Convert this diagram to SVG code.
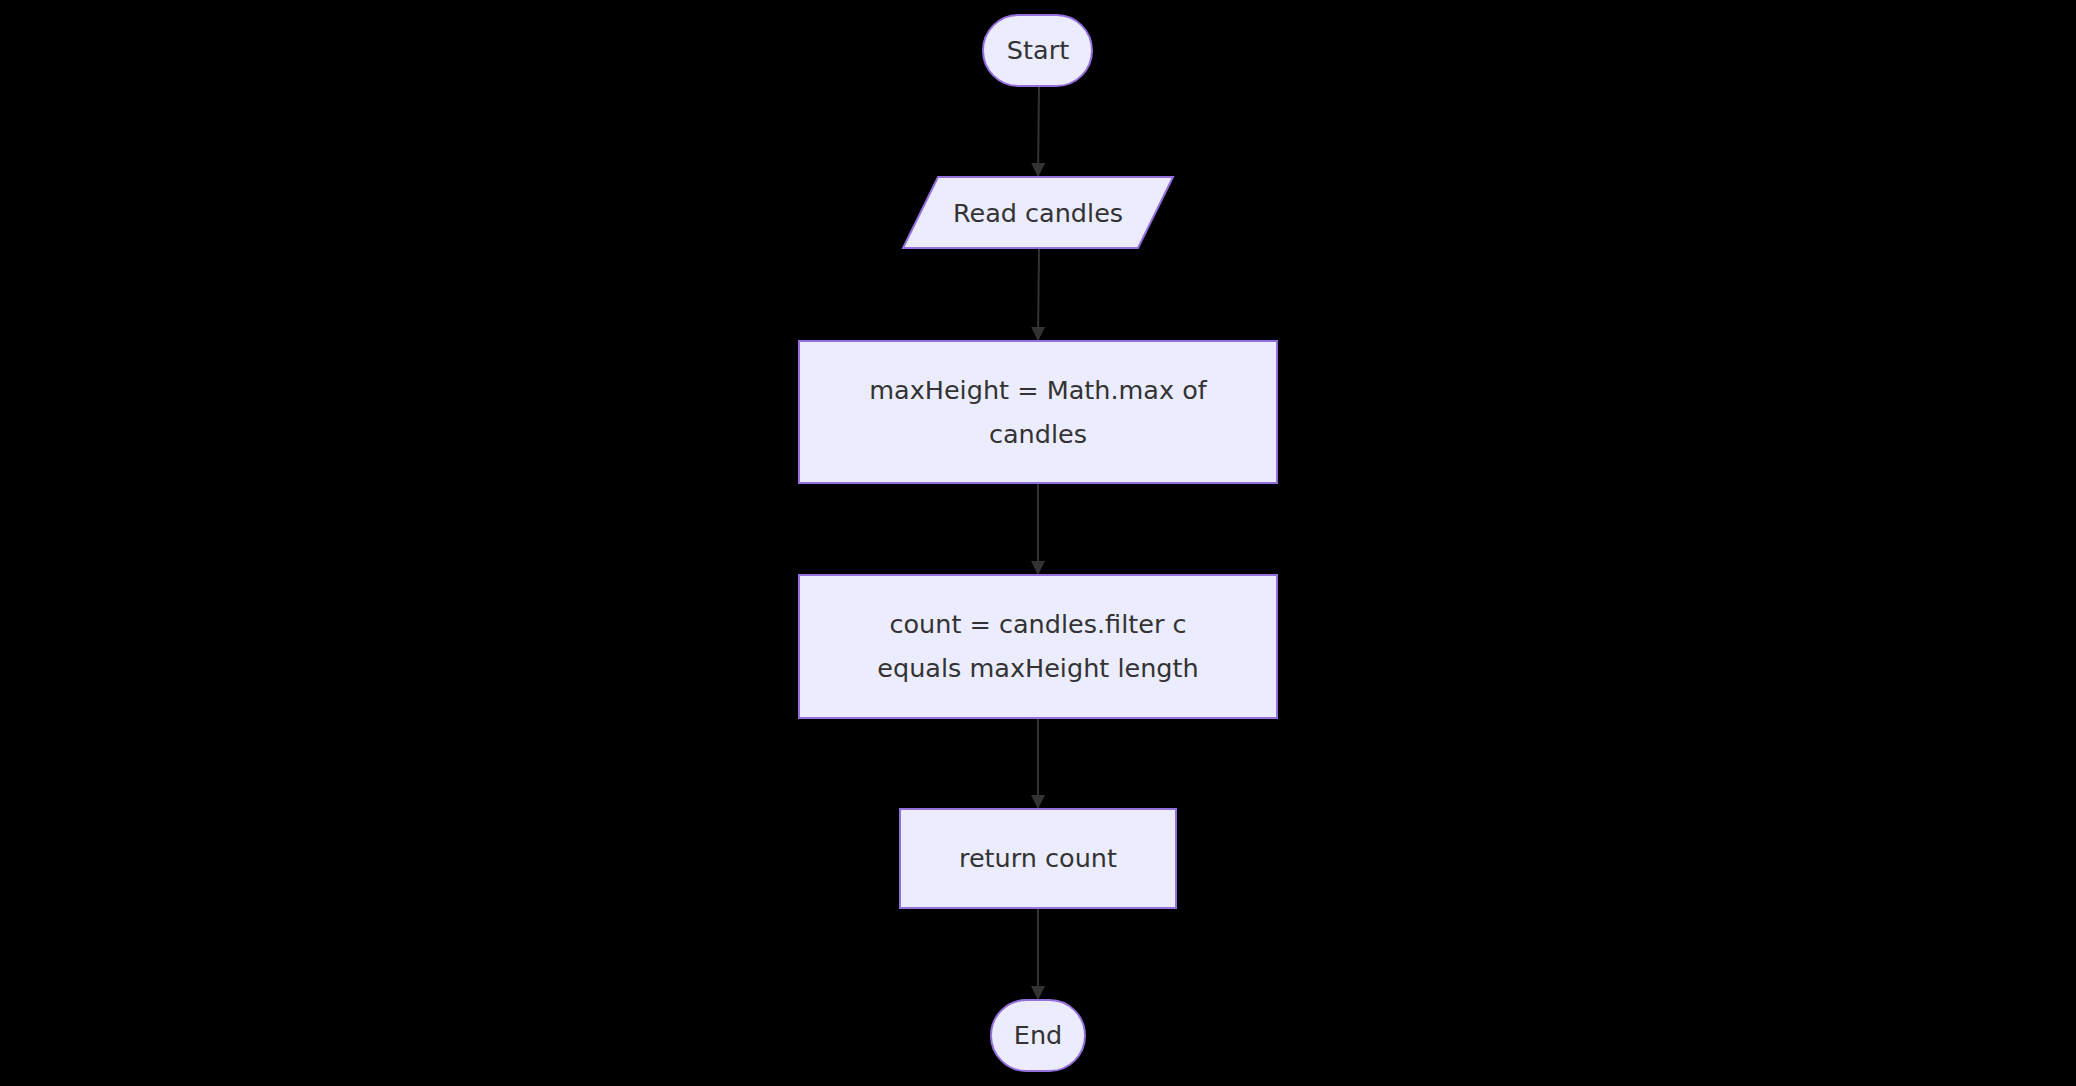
<svg xmlns="http://www.w3.org/2000/svg" width="2076" height="1086" viewBox="0 0 2076 1086">
<defs>
<style>
.node{fill:#ECECFF;stroke:#9370DB;stroke-width:2}
.lbl{font-family:"DejaVu Sans","Liberation Sans",sans-serif;font-size:25.5px;fill:#333333;text-anchor:middle}
.edge{stroke:#333333;stroke-width:2;fill:none}
</style>
<marker id="arrow" viewBox="0 0 10 10" refX="10" refY="5" markerWidth="7" markerHeight="7" markerUnits="strokeWidth" orient="auto">
<path d="M0,0 L10,5 L0,10 z" fill="#333333"/>
</marker>
</defs>
<rect width="2076" height="1086" fill="#000000"/>
<g id="edges">
<path class="edge" d="M1039,86 L1038,177" marker-end="url(#arrow)"/>
<path class="edge" d="M1039,248 L1038,341" marker-end="url(#arrow)"/>
<path class="edge" d="M1038,483 L1038,575" marker-end="url(#arrow)"/>
<path class="edge" d="M1038,718 L1038,809" marker-end="url(#arrow)"/>
<path class="edge" d="M1038,908 L1038,1000" marker-end="url(#arrow)"/>
</g>
<g id="start">
<rect class="node" x="983" y="15" width="109" height="71" rx="35.5" ry="35.5"/>
<text class="lbl" x="1038" y="59">Start</text>
</g>
<g id="read">
<polygon class="node" points="938,177 1173,177 1138,248 903,248"/>
<text class="lbl" x="1038" y="222">Read candles</text>
</g>
<g id="max">
<rect class="node" x="799" y="341" width="478" height="142"/>
<text class="lbl" x="1038" y="399">maxHeight = Math.max of</text>
<text class="lbl" x="1038" y="443">candles</text>
</g>
<g id="count">
<rect class="node" x="799" y="575" width="478" height="143"/>
<text class="lbl" x="1038" y="633">count = candles.filter c</text>
<text class="lbl" x="1038" y="677">equals maxHeight length</text>
</g>
<g id="ret">
<rect class="node" x="900" y="809" width="276" height="99"/>
<text class="lbl" x="1038" y="867">return count</text>
</g>
<g id="end">
<rect class="node" x="991" y="1000" width="94" height="71" rx="35.5" ry="35.5"/>
<text class="lbl" x="1038" y="1044">End</text>
</g>
</svg>
